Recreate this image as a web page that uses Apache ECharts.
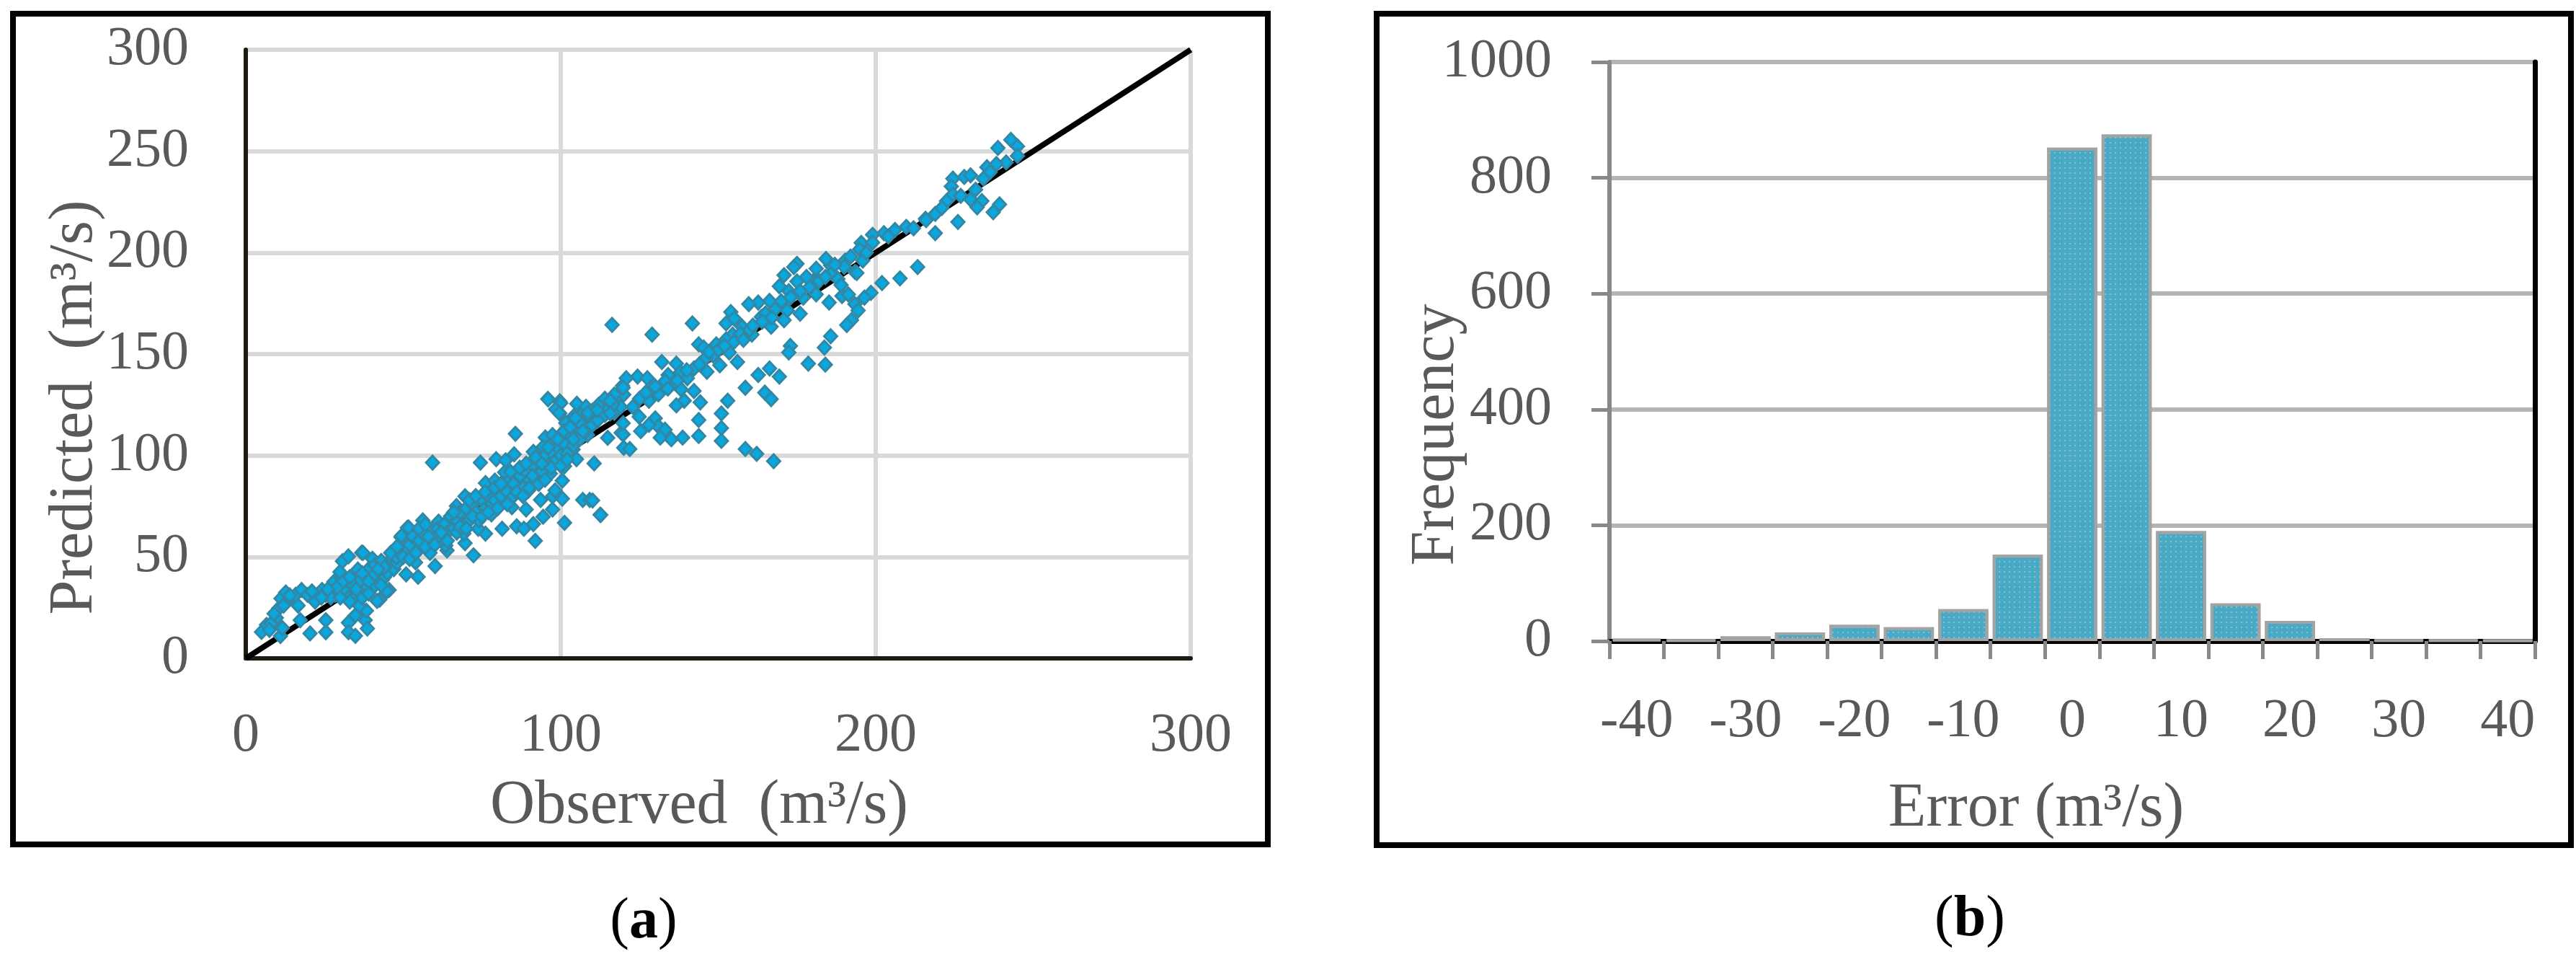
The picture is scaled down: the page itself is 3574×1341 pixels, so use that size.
<!DOCTYPE html>
<html>
<head>
<meta charset="utf-8">
<title>Observed vs predicted discharge and error histogram</title>
<script src="https://cdn.jsdelivr.net/npm/echarts@6/dist/echarts.min.js"></script>
<style>
    html, body { margin: 0; padding: 0; background: #fff; }
    #chart { width: 3574px; height: 1341px; }
</style>
</head>
<body>
<div id="chart"></div>
<script>
// (a) observed vs predicted flow, [observed, predicted] in m3/s
var flowPairs = [
    [5, 13], [6.6, 16.5], [11, 11], [11.6, 15], [9.7, 20], [10.5, 24.7], [11.2, 29.5], [12.7, 32.5],
    [15.8, 31.3], [16.6, 26], [17.3, 18.8], [17.7, 33.7], [19.6, 31.3], [20.4, 12.3], [22.7, 31.3],
    [24.2, 33.7], [25.4, 31.3], [25.4, 18.8], [25.4, 12.9], [28.4, 31.3], [28, 37.8], [30.3, 39.6],
    [29.9, 42.6], [30.7, 47.9], [32.6, 50.3], [36.8, 52.1], [35.6, 43.8], [32.2, 30.7], [35.2, 30.7],
    [34.8, 21.2], [32.6, 17.6], [32.6, 12.9], [34.8, 11.1], [37.9, 18.8], [38.6, 14.7], [38.3, 23.5],
    [42.5, 28.9], [45.5, 33.7], [40.2, 40.8], [44, 45.5], [46.3, 49.1], [49.3, 59.7], [51.3, 64.4],
    [50.9, 52.6], [40.2, 49.1], [43.3, 38.6], [38.7, 35.1],
    [8, 17], [13, 28], [14, 31], [7.5, 14], [9, 22], [12, 26], [21, 33], [27, 30], [31, 34], [33, 28],
    [36, 26], [37, 30], [39, 32], [41, 36], [42, 40], [44, 40], [45, 42], [47, 44], [48, 47], [36, 38],
    [34, 36], [39, 44], [41, 46], [43, 48], [29, 35], [31, 38],
    [37.2, 52], [49.4, 60.3], [51.7, 64.5], [56.2, 68], [61.2, 67.4], [66.9, 75.1], [69.6, 79.9],
    [76.1, 86.4], [79.1, 87.6], [82.2, 91.7], [86, 92.3], [91.3, 101.8], [95.1, 108.9], [97.4, 110.1],
    [95.9, 127.9], [99.7, 126.7], [99.7, 120.8], [104.3, 119.6], [106.6, 120.2], [108.5, 110.1],
    [102.8, 104.2], [105.4, 112.5],
    [59.3, 96.5], [74.5, 96.5], [85.6, 110.7], [79.5, 98.2], [82.5, 97.6], [85.2, 100.6], [107, 78.1],
    [109.2, 78.1], [101.2, 66.8], [89, 73.4], [86, 65.1], [88.3, 63.9], [91.9, 57.9], [91.3, 66.2],
    [94.4, 69.8], [97.4, 73.4], [100.5, 78.7], [112.5, 70.8],
    [41.7, 28.3], [44.8, 33.1], [50.9, 41.4], [54.7, 40.2], [60.1, 45.5], [63.9, 53.2], [69.6, 56.8],
    [72.3, 50.8], [76.1, 61.5], [81.4, 63.9], [84.5, 74.5], [93.6, 78.1], [97.4, 79.9],
    [40.2, 40.2], [44, 44.9], [47.8, 49.7], [53.9, 47.3], [54.3, 54.4], [57.8, 59.1], [58.5, 52],
    [63.5, 55.6], [65.4, 66.2], [69.2, 61.5], [70, 71], [73.4, 69.8], [73.8, 63.9], [74.5, 79.3],
    [78, 71], [78.7, 82.8], [81.4, 76.9], [85.2, 84], [88.3, 88.8], [89.8, 82.8], [92.8, 93.5],
    [93.2, 87.6], [95.1, 97], [96.7, 91.1], [98.2, 82.8], [98.9, 99.4], [101.2, 103], [101.2, 94.7],
    [102, 108.9], [103.9, 103], [105, 98.2], [100.5, 87.6], [94.4, 104.2], [98.2, 105.3], [101.6, 116],
    [105.1, 125.5],
    [52, 56], [53, 60], [55, 58], [56, 62], [57, 55], [59, 63], [60, 60], [61, 64], [62, 58], [63, 66],
    [64, 62], [65, 70], [66, 64], [67, 68], [68, 72], [69, 66], [70, 74], [71, 68], [72, 76], [73, 72],
    [74, 68], [75, 78], [76, 74], [77, 80], [78, 76], [79, 78], [80, 84], [81, 80], [82, 86], [83, 82],
    [84, 88], [85, 80], [86, 86], [87, 90], [88, 84], [89, 92], [90, 88], [91, 95], [92, 90], [93, 97],
    [94, 92], [95, 100], [96, 95], [97, 102], [98, 97], [99, 104], [100, 100], [101, 106], [102, 101],
    [103, 110], [104, 105], [105, 114], [106, 108], [107, 117], [108, 112], [109, 119], [110, 115],
    [111, 121], [112, 118], [113, 124], [114, 120], [115, 123], [116, 126], [117, 121], [118, 128],
    [119, 124], [120, 130],
    [46, 52], [48, 55], [50, 50], [52, 49], [54, 52], [55, 64], [57, 66], [58, 60], [60, 56], [62, 62],
    [64, 58], [66, 72], [67, 62], [68, 65], [70, 64], [71, 78], [72, 70], [73, 80], [75, 70], [76, 82],
    [77, 72], [79, 84], [80, 74], [81, 86], [83, 76], [84, 92], [85, 86], [86, 82], [87, 94], [88, 80],
    [89, 96], [90, 84], [91, 90], [92, 99], [93, 86], [94, 96], [95, 88], [96, 104], [97, 94],
    [99, 108], [100, 95], [101, 112], [102, 98], [103, 114], [104, 108], [106, 116], [107, 112],
    [108, 124], [110, 122], [112, 125], [114, 128], [117, 130], [22, 28], [24, 30], [26, 34],
    [30, 30], [33, 40], [35, 34], [37, 42], [39, 38], [42, 44], [43, 36],
    [116.3, 164.4], [96, 127.7], [100, 125.8], [98.4, 122.8], [99.5, 121], [104.7, 118.5],
    [108.6, 121], [111.7, 117.3], [114.9, 108.7], [116.5, 125.2], [119.6, 134.4], [119.2, 111.2],
    [120, 103.8],
    [242.9, 255.6], [238.8, 251.6], [245, 252.4], [245, 247.7], [241.4, 244.5], [238.3, 243.7],
    [235.3, 242.1], [236.3, 239.7], [234.2, 236.5], [224.5, 236.5], [228.1, 237.3], [230.1, 238.1],
    [224, 232.6], [224.5, 228.6], [222.5, 225.4], [231.7, 231], [230.1, 226.2], [233.7, 225.4],
    [232.2, 222.3], [237.3, 219.9], [239.3, 223.8], [226.1, 215.1],
    [218.9, 219.1], [215.8, 216.7], [218.9, 209.6], [209.7, 212.7], [206.1, 211.2], [202.6, 209.6],
    [199, 208.8], [195.4, 204.8], [194.9, 201.6], [195.9, 196.1], [193.4, 190.5],
    [213.3, 192.9], [207.7, 187.3], [202, 185], [198.5, 180.2], [196.4, 177.8], [193.4, 174.6],
    [194.4, 171.5], [192.3, 166.7], [190.8, 164.3], [185.7, 158.8], [183.7, 153.2], [172.9, 154],
    [172.4, 150.8], [178.6, 145.3], [184, 144.8],
    [190.3, 196.1], [185.7, 193.7], [184.2, 196.9], [181.1, 192.1], [180.1, 185.8], [175, 194.5],
    [174, 192.9], [170.9, 188.9], [169.4, 183.4], [172.4, 181], [175, 185.8], [177, 177.8],
    [181.1, 179.4], [185.2, 175.4], [189.3, 178.6], [191.3, 179.4], [171.9, 171.5], [176, 169.9],
    [170.9, 166.7], [166.3, 176.2], [162.7, 175.4], [159.7, 174.6], [154, 170.7], [152.5, 165.1],
    [155.1, 167.5], [163.7, 168.3], [166.8, 163.5], [160.7, 159.6], [157.6, 163.5], [154.6, 159.6],
    [152.5, 157.2], [149.4, 154.8], [143.8, 154.8], [145.4, 153.2], [141.8, 165.1], [129, 159.6],
    [148.4, 149.3], [153.5, 150.8], [156.1, 146.1], [150.5, 144.5], [146.4, 141.3], [142.3, 142.9],
    [136.7, 145.3], [132.1, 146.1], [134.1, 139.7], [140.2, 138.1], [136.2, 135.8], [133.1, 136.6],
    [124.4, 138.9], [120.8, 138.1], [127.5, 138.1], [119.8, 133.4], [138.2, 132.6], [142.3, 131.8],
    [144.3, 126.2], [139.2, 127],
    [162.7, 139.7], [166.3, 142.9], [169.4, 138.9], [158.6, 133.4], [164.8, 131], [166.8, 127.8],
    [153, 127], [151, 120.7], [151, 113.5], [151, 107.2], [143.8, 117.5], [143.8, 109.6],
    [158.6, 103.2], [162.2, 100.8], [167.6, 97.2],
    [115.7, 127], [111.6, 122.3], [115.7, 120.7], [122.9, 123.9], [128, 127], [131, 130.2],
    [124.9, 119.1], [130, 118.3], [131, 114.3], [133.1, 112.7], [136.7, 124.7], [135.1, 108],
    [138.7, 108.8], [131.6, 108.8], [125.4, 112], [119.8, 110.4], [121.9, 103.2], [128, 115.1],
    [119.8, 115.9], [110.6, 96.1], [112.7, 70.7], [110.1, 77.8],
    [125, 128], [127, 131], [130, 134], [138, 141], [146, 148], [150, 152], [157, 160], [160, 162],
    [165, 170], [168, 172], [176, 181], [179, 183], [186, 190], [188, 187], [190, 193], [197, 200],
    [199, 205], [204, 208], [212, 212], [216, 216], [221, 222], [227, 228],
    [134, 133], [137, 137], [140, 142], [144, 145], [147, 151], [152, 154], [155, 156], [158, 157],
    [161, 164], [164, 166], [167, 168], [170, 176], [173, 178], [178, 188], [182, 186], [184, 188],
    [187, 194], [189, 184], [192, 198], [194, 190]
]
// 1:1 line ends
var lineOfEquality = [0, 300]

// (b) error histogram
var errorBins = ['-40', '-35', '-30', '-25', '-20', '-15', '-10', '-5', '0', '5', '10', '15', '20', '25', '30', '35', '40']
var frequency = [4, 2, 8, 15, 28, 24, 55, 149, 852, 875, 190, 65, 35, 5, 2, 2, 1]

var FONT = '"Liberation Serif", "Times New Roman", serif'
var GREY_TEXT = '#595959'

var chart = echarts.init(document.getElementById('chart'))

var hiddenAxis = {
    axisLabel: { show: false }, axisTick: { show: false }, splitLine: { show: false }
}

var option = {
    backgroundColor: '#fff',
    animation: false,
    grid: [
        { left: 341, top: 69, width: 1311, height: 844 },
        { left: 2233, top: 86, width: 1284, height: 803 }
    ],
    xAxis: [
        {
            type: 'value', gridIndex: 0, min: 0, max: 300, interval: 100,
            axisLine: { lineStyle: { color: '#bfbfbf', width: 6 } },
            axisTick: { show: false },
            splitLine: { lineStyle: { color: '#d9d9d9', width: 6 } },
            axisLabel: { fontFamily: FONT, fontSize: 76, color: GREY_TEXT, margin: 70 }
        },
        Object.assign({
            type: 'value', gridIndex: 0, position: 'top', min: 0, max: 300,
            axisLine: { lineStyle: { color: '#1e1a10', width: 6 } }
        }, hiddenAxis),
        {
            type: 'category', gridIndex: 1, data: errorBins, boundaryGap: true,
            axisLine: { lineStyle: { color: '#898989', width: 6 } },
            axisTick: { show: true, interval: 0, length: 25, lineStyle: { color: '#898989', width: 5 } },
            splitLine: { show: false },
            axisLabel: { interval: 1, fontFamily: FONT, fontSize: 76, color: GREY_TEXT, margin: 74 }
        },
        Object.assign({
            type: 'value', gridIndex: 1, position: 'top', min: 0, max: 1,
            axisLine: { lineStyle: { color: '#000', width: 7 } }
        }, hiddenAxis)
    ],
    yAxis: [
        {
            type: 'value', gridIndex: 0, min: 0, max: 300, interval: 50,
            axisLine: { lineStyle: { color: '#bfbfbf', width: 6 } },
            axisTick: { show: false },
            splitLine: { lineStyle: { color: '#d9d9d9', width: 6 } },
            axisLabel: { fontFamily: FONT, fontSize: 76, color: GREY_TEXT, margin: 79 }
        },
        Object.assign({
            type: 'value', gridIndex: 0, position: 'right', min: 0, max: 300,
            axisLine: { lineStyle: { color: '#1e1a10', width: 6 } }
        }, hiddenAxis),
        {
            type: 'value', gridIndex: 1, min: 0, max: 1000, interval: 200,
            axisLine: { show: true, lineStyle: { color: '#898989', width: 6 } },
            axisTick: { show: true, length: 25, lineStyle: { color: '#898989', width: 5 } },
            splitLine: { lineStyle: { color: '#b4b4b4', width: 6 } },
            axisLabel: {
                fontFamily: FONT, fontSize: 76, color: GREY_TEXT, margin: 80,
                formatter: function (v) { return String(v) }   // no thousands separator
            }
        },
        Object.assign({
            type: 'value', gridIndex: 1, position: 'right', min: 0, max: 1,
            axisLine: { show: true, lineStyle: { color: '#000', width: 7 } }
        }, hiddenAxis)
    ],
    series: [
        {
            type: 'line', xAxisIndex: 0, yAxisIndex: 0,
            data: [[lineOfEquality[0], lineOfEquality[0]], [lineOfEquality[1], lineOfEquality[1]]],
            symbol: 'none',
            lineStyle: { color: '#000', width: 8 },
            z: 2
        },
        {
            type: 'scatter', xAxisIndex: 0, yAxisIndex: 0,
            data: flowPairs,
            symbol: 'diamond', symbolSize: [18, 19],
            itemStyle: { color: '#0aa6de', borderColor: '#3288a4', borderWidth: 3, opacity: 1 },
            z: 3
        },
        {
            type: 'bar', xAxisIndex: 2, yAxisIndex: 2,
            data: frequency,
            barCategoryGap: '8%',
            itemStyle: {
                color: '#4aaac6',
                borderColor: '#a3a3a3', borderWidth: 4,
                decal: {
                    symbol: 'rect', symbolSize: 0.35,
                    dashArrayX: [4, 3], dashArrayY: [4, 3],
                    color: 'rgba(255,255,255,0.55)'
                }
            },
            z: 3
        }
    ],
    graphic: [
        // panel frames
        { type: 'rect', shape: { x: 18, y: 19, width: 1741, height: 1152 },
          style: { fill: 'none', stroke: '#000', lineWidth: 8 } },
        { type: 'rect', shape: { x: 1910, y: 19, width: 1657, height: 1153 },
          style: { fill: 'none', stroke: '#000', lineWidth: 8 } },
        // axis titles
        { type: 'text', x: 104, y: 565, rotation: Math.PI / 2,
          style: { text: 'Predicted  (m³/s)', font: '86px ' + FONT, fill: GREY_TEXT,
                   textAlign: 'center', textVerticalAlign: 'middle' } },
        { type: 'text', x: 970, y: 1118,
          style: { text: 'Observed  (m³/s)', font: '86px ' + FONT, fill: GREY_TEXT,
                   textAlign: 'center', textVerticalAlign: 'middle' } },
        { type: 'text', x: 1993, y: 603, rotation: Math.PI / 2,
          style: { text: 'Frequency', font: '86px ' + FONT, fill: GREY_TEXT,
                   textAlign: 'center', textVerticalAlign: 'middle' } },
        { type: 'text', x: 2825, y: 1122,
          style: { text: 'Error (m³/s)', font: '86px ' + FONT, fill: GREY_TEXT,
                   textAlign: 'center', textVerticalAlign: 'middle' } },
        // panel captions
        { type: 'text', x: 893, y: 1279,
          style: { text: '({b|a})', font: '80px ' + FONT, fill: '#000',
                   textAlign: 'center', textVerticalAlign: 'middle',
                   rich: { b: { fontWeight: 'bold', fontSize: 80, fontFamily: FONT, fill: '#000' } } } },
        { type: 'text', x: 2733, y: 1276,
          style: { text: '({b|b})', font: '80px ' + FONT, fill: '#000',
                   textAlign: 'center', textVerticalAlign: 'middle',
                   rich: { b: { fontWeight: 'bold', fontSize: 80, fontFamily: FONT, fill: '#000' } } } }
    ]
}

chart.setOption(option)
</script>
</body>
</html>
